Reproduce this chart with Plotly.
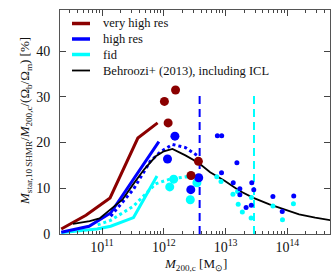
import numpy as np
import plotly.graph_objects as go

# ---------------- data (log10 of M200c [Msun], percent) ----------------
vhr_logm = [10.34, 10.74, 11.13, 11.58, 11.90]
vhr_val = [1.1, 4.1, 7.9, 21.0, 24.3]

hr_logm = [10.34, 10.79, 11.14, 11.92]
hr_val = [0.4, 1.7, 4.6, 20.2]

hr_dot_logm = [11.14, 11.51, 11.78, 11.95, 12.14, 12.35, 12.56]
hr_dot_val = [3.9, 9.8, 15.9, 18.0, 19.6, 18.9, 17.0]

fid_logm = [10.34, 10.92, 11.14, 11.51, 11.89]
fid_val = [0.3, 1.1, 1.7, 3.6, 12.7]

fid_dot_logm = [10.93, 11.14, 11.51, 11.87, 12.10, 12.35, 12.54]
fid_dot_val = [2.0, 3.0, 6.1, 11.0, 12.0, 12.5, 12.3]

beh_logm = [10.53, 10.80, 10.96, 11.12, 11.33, 11.50, 11.68, 11.87, 12.00, 12.14,
            12.35, 12.56, 12.75, 12.99, 13.23, 13.45, 13.71, 13.95, 14.19, 14.45, 14.75]
beh_val = [2.2, 2.8, 3.4, 5.1, 7.5, 10.8, 14.1, 17.0, 18.1, 18.6,
           17.2, 15.6, 13.5, 11.6, 9.4, 7.9, 6.5, 5.4, 4.3, 3.6, 2.9]

vhr_pts_logm = [12.01, 12.07, 12.19, 12.44, 12.56]
vhr_pts_val = [29.0, 24.3, 31.5, 12.8, 15.9]

hr_big_logm = [12.18, 12.06, 12.565, 12.437]
hr_big_val = [21.4, 16.4, 12.3, 9.7]

hr_small_logm = [12.867, 12.937, 13.183, 12.934, 13.124, 13.231, 13.231, 13.332,
                 13.424, 13.456, 13.416, 13.766, 14.103, 13.917]
hr_small_val = [21.5, 21.5, 15.6, 13.4, 11.2, 9.9, 8.6, 5.8,
                11.2, 9.7, 6.3, 8.2, 8.3, 4.9]

fid_big_logm = [12.16, 12.096, 12.536, 12.429]
fid_big_val = [12.0, 10.3, 11.2, 7.5]

fid_small_logm = [12.857, 12.926, 13.119, 13.194, 13.204, 13.271, 13.419, 13.413,
                  13.766, 13.921, 14.098]
fid_small_val = [12.5, 11.5, 8.7, 9.3, 6.5, 4.8, 8.0, 3.5, 6.1, 3.1, 6.6]

res_limit_hr = 12.58      # log10 M of resolution limit (high res)
res_limit_fid = 13.46     # log10 M of resolution limit (fid)
res_limit_top = 31.0

legend_labels = ["very high res", "high res", "fid", "Behroozi+ (2013), including ICL"]

x_tickvals = [1e11, 1e12, 1e13, 1e14]
x_ticktext = ["10<sup>11</sup>", "10<sup>12</sup>", "10<sup>13</sup>", "10<sup>14</sup>"]
y_tickvals = [0, 10, 20, 30, 40]

# ---------------- styling ----------------
DRED = "#8b0000"
BLUE = "#0000ff"
CYAN = "#00ffff"
FONT = "Liberation Serif"

def m(a):
    return 10 ** np.array(a)

fig = go.Figure()

# resolution limits
fig.add_trace(go.Scatter(x=m([res_limit_hr, res_limit_hr]), y=[0, res_limit_top], mode="lines",
                         line=dict(color=BLUE, width=2, dash="8px,5px"), showlegend=False))
fig.add_trace(go.Scatter(x=m([res_limit_fid, res_limit_fid]), y=[0, res_limit_top], mode="lines",
                         line=dict(color=CYAN, width=2, dash="8px,5px"), showlegend=False))

# dotted lines
fig.add_trace(go.Scatter(x=m(fid_dot_logm), y=fid_dot_val, mode="lines",
                         line=dict(color=CYAN, width=3, dash="dot"), showlegend=False))
fig.add_trace(go.Scatter(x=m(hr_dot_logm), y=hr_dot_val, mode="lines",
                         line=dict(color=BLUE, width=3, dash="dot"), showlegend=False))

# solid lines
fig.add_trace(go.Scatter(x=m(fid_logm), y=fid_val, mode="lines",
                         line=dict(color=CYAN, width=3), showlegend=False))
fig.add_trace(go.Scatter(x=m(hr_logm), y=hr_val, mode="lines",
                         line=dict(color=BLUE, width=3), showlegend=False))
fig.add_trace(go.Scatter(x=m(vhr_logm), y=vhr_val, mode="lines",
                         line=dict(color=DRED, width=3), showlegend=False))
fig.add_trace(go.Scatter(x=m(beh_logm), y=beh_val, mode="lines",
                         line=dict(color="black", width=1.8), showlegend=False))

# points
fig.add_trace(go.Scatter(x=m(fid_small_logm), y=fid_small_val, mode="markers",
                         marker=dict(color=CYAN, size=5), showlegend=False))
fig.add_trace(go.Scatter(x=m(hr_small_logm), y=hr_small_val, mode="markers",
                         marker=dict(color=BLUE, size=5), showlegend=False))
fig.add_trace(go.Scatter(x=m(fid_big_logm), y=fid_big_val, mode="markers",
                         marker=dict(color=CYAN, size=9), showlegend=False))
fig.add_trace(go.Scatter(x=m(hr_big_logm), y=hr_big_val, mode="markers",
                         marker=dict(color=BLUE, size=9), showlegend=False))
fig.add_trace(go.Scatter(x=m(vhr_pts_logm), y=vhr_pts_val, mode="markers",
                         marker=dict(color=DRED, size=9), showlegend=False))

# ---------------- manual legend ----------------
L, R, T, B = 60, 330, 10, 234
def px(x):
    return (x - L) / (R - L)
def py(y):
    return (B - y) / (B - T)

leg_colors = [DRED, BLUE, CYAN, "black"]
leg_widths = [3.5, 3.5, 3.5, 1.8]
leg_rows = [23.5, 39.0, 54.5, 70.5]
shapes = []
annotations = []
for lab, c, w, yy in zip(legend_labels, leg_colors, leg_widths, leg_rows):
    shapes.append(dict(type="line", xref="paper", yref="paper",
                       x0=px(72), x1=px(90), y0=py(yy), y1=py(yy),
                       line=dict(color=c, width=w)))
    annotations.append(dict(xref="paper", yref="paper", x=px(101), y=py(yy),
                            xanchor="left", yanchor="middle", text=lab, showarrow=False,
                            font=dict(family=FONT, size=12.5, color="#111")))

# axis titles
annotations.append(dict(xref="paper", yref="paper", x=px(25), y=py(121),
                        textangle=-90, xanchor="center", yanchor="middle", showarrow=False,
                        text="<i>M</i><sub>star,10 SHMR</sub>/<i>M</i><sub>200,c</sub>/(Ω<sub>b</sub>/Ω<sub>m</sub>) [%]",
                        font=dict(family=FONT, size=13, color="#111")))
annotations.append(dict(xref="paper", yref="paper", x=px(195), y=py(264),
                        xanchor="center", yanchor="middle", showarrow=False,
                        text="<i>M</i><sub>200,c</sub> [M<sub>⊙</sub>]",
                        font=dict(family=FONT, size=13, color="#111")))

minor_vals = []
for dec in [1e10, 1e11, 1e12, 1e13, 1e14]:
    for k in range(2, 10):
        minor_vals.append(k * dec)

fig.update_layout(
    width=332, height=276,
    margin=dict(l=L, r=332 - R, t=T, b=276 - B, autoexpand=False),
    paper_bgcolor="white", plot_bgcolor="white",
    font=dict(family=FONT, size=13, color="#111"),
    shapes=shapes, annotations=annotations,
    xaxis=dict(type="log", range=[10.32, 14.69], tickvals=x_tickvals, ticktext=x_ticktext,
               ticks="inside", ticklen=6, tickwidth=1, tickcolor="#444",
               showline=True, linecolor="#555", linewidth=1, mirror="allticks",
               showgrid=False, zeroline=False, automargin=False,
               tickfont=dict(family=FONT, size=14),
               minor=dict(tickvals=minor_vals, ticks="inside", ticklen=3, tickcolor="#444",
                          showgrid=False)),
    yaxis=dict(range=[0, 49], tickvals=y_tickvals, ticks="inside", ticklen=6, tickwidth=1,
               tickcolor="#444", showline=True, linecolor="#555", linewidth=1,
               mirror="allticks", showgrid=False, zeroline=False, automargin=False,
               tickfont=dict(family=FONT, size=14), ticklabelstandoff=6),
)

fig.write_html("out.html", config={"displayModeBar": False},
               post_script="document.body.style.margin='0px';")
